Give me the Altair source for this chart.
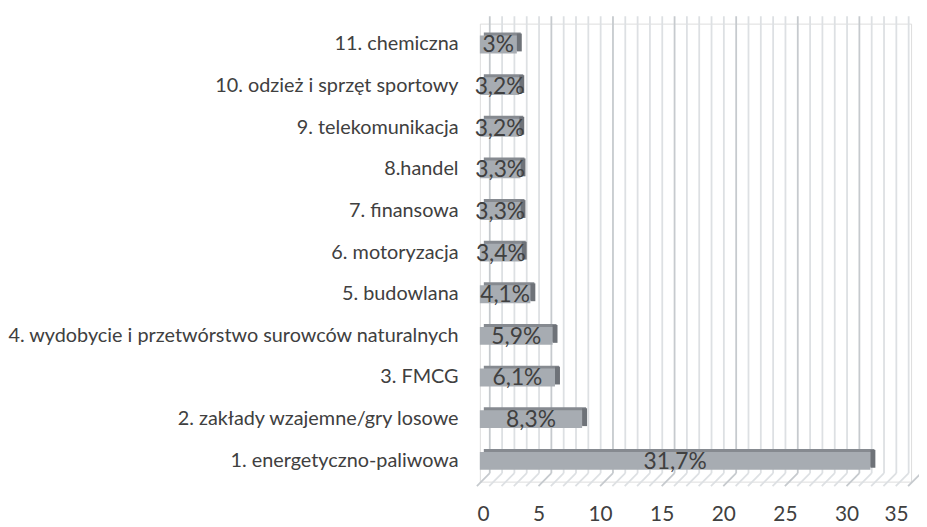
import altair as alt
import pandas as pd

categories = [
    "11. chemiczna",
    "10. odzież i sprzęt sportowy",
    "9. telekomunikacja",
    "8.handel",
    "7. finansowa",
    "6. motoryzacja",
    "5. budowlana",
    "4. wydobycie i przetwórstwo surowców naturalnych",
    "3. FMCG",
    "2. zakłady wzajemne/gry losowe",
    "1. energetyczno-paliwowa",
]
values = [3.0, 3.2, 3.2, 3.3, 3.3, 3.4, 4.1, 5.9, 6.1, 8.3, 31.7]
tick_values = [0, 5, 10, 15, 20, 25, 30, 35]
grid_values = list(range(0, 36))

labels = [f"{v:g}".replace(".", ",") + "%" for v in values]
df = pd.DataFrame({"category": categories, "value": values, "label": labels})
grid = pd.DataFrame({"v": grid_values})

FONT = "Lato"
TEXT = "#404040"
H = 462
W = 435

xscale = alt.Scale(domain=[0, 35], nice=False, zero=True)
xaxis = alt.Axis(values=tick_values, grid=False, domain=False, ticks=False,
                 labelFontSize=21, labelFont=FONT, labelColor=TEXT,
                 labelPadding=22, labelOffset=-3, title=None)
yenc = alt.Y("category:N", sort=categories,
             scale=alt.Scale(paddingInner=0, paddingOuter=0),
             axis=alt.Axis(domain=False, ticks=False, labelFontSize=20,
                           labelFont=FONT, labelColor=TEXT, labelPadding=22,
                           labelLimit=600, title=None))

gridcolor = alt.condition("datum.v % 5 == 0", alt.value("#C6CACE"), alt.value("#DDE0E3"))

wall = alt.Chart(grid).mark_rule(xOffset=10, strokeWidth=1.8).encode(
    x=alt.X("v:Q", scale=xscale, axis=xaxis),
    y=alt.value(-7.5), y2=alt.value(453.5),
    color=gridcolor,
)
floor = alt.Chart(grid).mark_rule(xOffset=10, x2Offset=-3, strokeWidth=1.8).encode(
    x=alt.X("v:Q", scale=xscale, axis=xaxis),
    x2="v:Q",
    y=alt.value(453.5), y2=alt.value(466.5),
    color=gridcolor,
)

base = alt.Chart(df)
top = base.mark_bar(color="#868A90", size=18, xOffset=4, x2Offset=4, yOffset=-3).encode(
    x=alt.X("value:Q", scale=xscale, axis=xaxis), x2=alt.datum(0), y=yenc)
side = base.mark_bar(color="#6E7278", size=18, xOffset=0, x2Offset=5, yOffset=-2).encode(
    x=alt.X("value:Q", scale=xscale, axis=xaxis), x2="value:Q", y=yenc)
face = base.mark_bar(color="#A7ACB2", size=18).encode(
    x=alt.X("value:Q", scale=xscale, axis=xaxis), x2=alt.datum(0), y=yenc)
text = base.transform_calculate(mid="datum.value / 2").mark_text(
    font=FONT, fontSize=23, color=TEXT, baseline="middle", dy=1).encode(
    x=alt.X("mid:Q", scale=xscale, axis=xaxis), y=yenc, text="label:N")

chart = alt.layer(wall, floor, top, side, face, text).properties(
    width=W, height=H,
    autosize=alt.AutoSizeParams(type="none"),
    padding={"left": 476, "top": 13.5, "right": 8, "bottom": 43},
).configure_view(stroke=None).configure(background="white")

chart.save("out.html", embed_options={"renderer": "svg", "actions": False})
